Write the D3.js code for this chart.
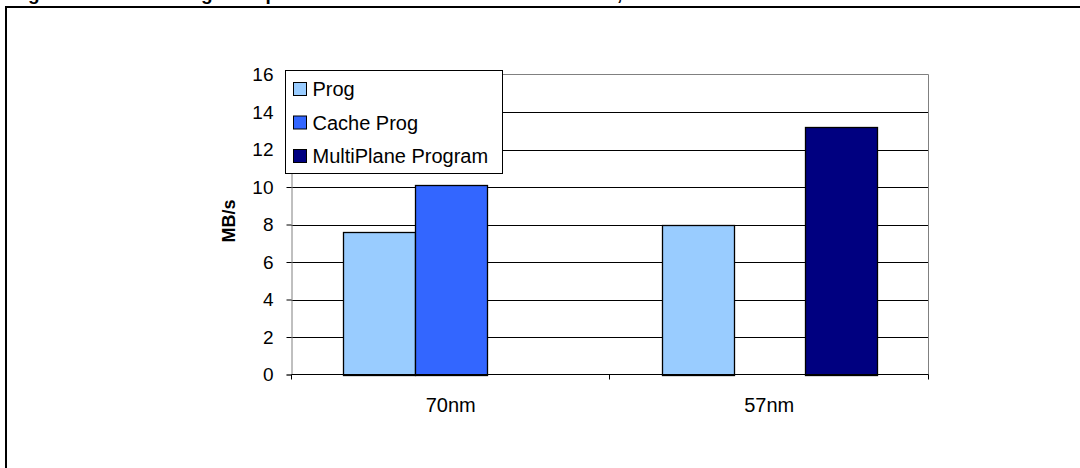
<!DOCTYPE html>
<html>
<head>
<meta charset="utf-8">
<script src="https://cdn.jsdelivr.net/npm/d3@7"></script>
<style>
  html, body { margin: 0; padding: 0; background: #fff; overflow: hidden; }
  svg { display: block; }
  text { font-family: "Liberation Sans", Arial, sans-serif; }
</style>
</head>
<body>
<svg id="chart" width="1080" height="468"></svg>
<script>
// Program throughput (MB/s) per process node and program mode
const categories = ["70nm", "57nm"];
const seriesNames = ["Prog", "Cache Prog", "MultiPlane Program"];
const progValues = [7.6, 7.95];
const cacheProgValues = [10.1, null];
const multiPlaneValues = [null, 13.2];
const yTicks = [0, 2, 4, 6, 8, 10, 12, 14, 16];
const seriesColors = ["#99CCFF", "#3366FF", "#000080"];
const titleText = "Figure 10: Cache Program Speed vs. Normal and MultiPlane Modes, 70nm and 57nm";
const yLabel = "MB/s";

const seriesValues = [progValues, cacheProgValues, multiPlaneValues];

const svg = d3.select("#chart");

// Figure caption (sits above the page edge) and the figure frame
svg.append("text")
  .attr("x", 11).attr("y", -0.5)
  .attr("font-size", 19).attr("font-weight", "bold")
  .text(titleText);

svg.append("path")
  .attr("d", "M6,468V7H1080")
  .attr("fill", "none").attr("stroke", "#000").attr("stroke-width", 2);

// Plot area
const plotLeft = 291.5, plotRight = 928.5, plotTop = 74.5, plotBottom = 374.5;

const x = d3.scaleBand().domain(categories).range([plotLeft, plotRight]).padding(0);
const xInner = d3.scaleBand().domain(seriesNames)
  .range([0, x.bandwidth()]).paddingInner(0).paddingOuter(0.727);
const y = d3.scaleLinear().domain([0, 16]).range([plotBottom, plotTop]);

// Gridlines
svg.append("g")
  .selectAll("line")
  .data(yTicks.filter(t => t > 0 && t < 16))
  .join("line")
  .attr("x1", plotLeft).attr("x2", plotRight)
  .attr("y1", d => Math.round(y(d)) + 0.5).attr("y2", d => Math.round(y(d)) + 0.5)
  .attr("stroke", "#000").attr("stroke-width", 1);

// Plot border (top and right)
svg.append("path")
  .attr("d", `M${plotLeft},${plotTop}H${plotRight}V${plotBottom}`)
  .attr("fill", "none").attr("stroke", "#808080").attr("stroke-width", 1);

// Bars
const bars = [];
categories.forEach((c, ci) => {
  seriesNames.forEach((s, si) => {
    const v = seriesValues[si][ci];
    if (v !== null) bars.push({ c, s, si, v });
  });
});

svg.append("g")
  .selectAll("rect")
  .data(bars)
  .join("rect")
  .attr("x", d => Math.round(x(d.c) + xInner(d.s)) + 0.5)
  .attr("y", d => Math.round(y(d.v)) + 0.5)
  .attr("width", Math.round(xInner.bandwidth()))
  .attr("height", d => Math.round(y(0)) - Math.round(y(d.v)))
  .attr("fill", d => seriesColors[d.si])
  .attr("stroke", "#000").attr("stroke-width", 1.3);

// Y axis
const yAxis = svg.append("g")
  .attr("transform", `translate(${plotLeft},0)`)
  .call(d3.axisLeft(y).tickValues(yTicks).tickSize(5).tickPadding(13).tickFormat(d3.format("d")));
yAxis.select(".domain").attr("stroke", "#808080");
yAxis.selectAll(".tick line").attr("stroke", "#000");
yAxis.selectAll(".tick text")
  .attr("font-size", 19).attr("fill", "#000")
  .attr("font-family", "'Liberation Sans', Arial, sans-serif");

// X axis: ticks at the category boundaries, labels centred in each band
const xAxisG = svg.append("g").attr("transform", `translate(0,${plotBottom})`);
xAxisG.append("line")
  .attr("x1", plotLeft).attr("x2", plotRight)
  .attr("stroke", "#000").attr("stroke-width", 1);
const boundaries = categories.map(c => x(c)).concat([x(categories[categories.length - 1]) + x.bandwidth()]);
xAxisG.selectAll("line.tick")
  .data(boundaries)
  .join("line")
  .attr("class", "tick")
  .attr("x1", d => Math.round(d) - 0.5).attr("x2", d => Math.round(d) - 0.5)
  .attr("y1", 0).attr("y2", 5)
  .attr("stroke", "#000");
xAxisG.selectAll("text")
  .data(categories)
  .join("text")
  .attr("x", d => x(d) + x.bandwidth() / 2)
  .attr("y", 37)
  .attr("text-anchor", "middle")
  .attr("font-size", 20)
  .text(d => d);

// Y axis title
svg.append("text")
  .attr("transform", "translate(235,221) rotate(-90)")
  .attr("text-anchor", "middle")
  .attr("font-size", 18).attr("font-weight", "bold")
  .text(yLabel);

// Legend
const legend = svg.append("g").attr("transform", "translate(285.5,70.5)");
legend.append("rect")
  .attr("width", 217).attr("height", 103)
  .attr("fill", "#fff").attr("stroke", "#000").attr("stroke-width", 1);
const rowY = d3.scalePoint().domain(seriesNames).range([18.5, 85.5]);
const rows = legend.selectAll("g.row")
  .data(seriesNames)
  .join("g")
  .attr("class", "row")
  .attr("transform", d => `translate(0,${rowY(d)})`);
rows.append("rect")
  .attr("x", 8).attr("y", -6.5)
  .attr("width", 13).attr("height", 13)
  .attr("fill", (d, i) => seriesColors[i])
  .attr("stroke", "#000").attr("stroke-width", 1);
rows.append("text")
  .attr("x", 27).attr("y", 7)
  .attr("font-size", 20)
  .text(d => d);
</script>
</body>
</html>
